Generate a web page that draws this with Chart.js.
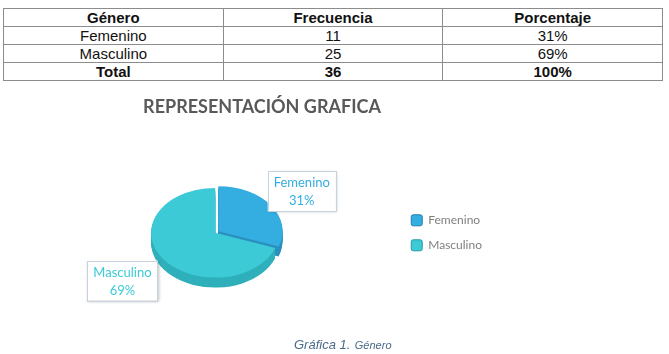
<!DOCTYPE html>
<html>
<head>
<meta charset="utf-8">
<script src="https://cdn.jsdelivr.net/npm/chart.js@4.4.1/dist/chart.umd.min.js"></script>
<style>
  html, body { margin: 0; padding: 0; background: #fff; width: 669px; height: 354px; overflow: hidden; position: relative; }
  #tabla { position: absolute; left: 3px; top: 8px; width: 660px; border-collapse: collapse; table-layout: fixed;
           font-family: "Liberation Sans", Arial, sans-serif; font-size: 15px; color: #111; }
  #tabla td { border: 1px solid #8c8c8c; height: 17px; padding: 0; text-align: center; line-height: 17px; }
  #tabla tr.bold td { font-weight: bold; }
  #wrap { position: absolute; left: 0; top: 85px; width: 669px; height: 269px; }
  #pie { position: absolute; left: 294px; top: 335px; font-family: "Liberation Sans", Arial, sans-serif;
         font-style: italic; color: #4b6a8a; white-space: nowrap; }
  #pie .a { font-size: 13px; }
  #pie .b { font-size: 11px; }
</style>
</head>
<body>
<table id="tabla"></table>
<div id="wrap"><canvas id="grafico"></canvas></div>
<div id="pie"><span class="a">Gráfica 1.</span> <span class="b">Género</span></div>

<script>
// datos
const generos = ["Femenino", "Masculino"];
const frecuencia = [11, 25];
const porcentaje = [31, 69];
const cabecera = ["Género", "Frecuencia", "Porcentaje"];
const tituloGrafica = "REPRESENTACIÓN GRAFICA";

// colores
const topColors = ["#34ade0", "#3ccbd6"];
const sideColors = ["#2b90c0", "#2fb0bb"];
const legendBorders = ["#1f7fae", "#249aa4"];

// tabla de arriba
const tabla = document.getElementById("tabla");
function fila(celdas, bold) {
  const tr = document.createElement("tr");
  if (bold) tr.className = "bold";
  celdas.forEach((c) => {
    const td = document.createElement("td");
    td.textContent = c;
    tr.appendChild(td);
  });
  tabla.appendChild(tr);
}
fila(cabecera, true);
generos.forEach((g, i) => fila([g, frecuencia[i], porcentaje[i] + "%"], false));
fila(["Total", frecuencia.reduce((a, b) => a + b, 0), porcentaje.reduce((a, b) => a + b, 0) + "%"], true);

// pastel 3D (aplastado + lateral)
const SY = 0.70;
const DEPTH = 10;
const SHIFT_X = 0;

const pie3d = {
  id: "pie3d",
  beforeDatasetsDraw(chart) {
    const ctx = chart.ctx;
    const meta = chart.getDatasetMeta(0);
    const cx = meta.data[0].x, cy = meta.data[0].y;
    ctx.save();
    ctx.translate(cx + SHIFT_X, cy);
    ctx.scale(1, SY);
    ctx.translate(-cx, -cy);
    for (let d = DEPTH; d >= 1; d--) {
      meta.data.forEach((arc, i) => {
        const off = (arc.options.offset || 0) / 4;
        const mid = (arc.startAngle + arc.endAngle) / 2;
        const x = arc.x + Math.cos(mid) * off;
        const y = arc.y + Math.sin(mid) * off + d / SY;
        ctx.beginPath();
        ctx.moveTo(x, y);
        ctx.arc(x, y, arc.outerRadius, arc.startAngle, arc.endAngle);
        ctx.closePath();
        ctx.fillStyle = sideColors[i];
        ctx.fill();
      });
    }
  },
  afterDatasetsDraw(chart) {
    chart.ctx.restore();
  },
};

// cuadros de etiqueta
const labelBoxes = {
  id: "labelBoxes",
  afterDraw(chart) {
    const ctx = chart.ctx;
    const meta = chart.getDatasetMeta(0);
    ctx.save();
    ctx.font = "13px Lato";
    ctx.textAlign = "center";
    ctx.textBaseline = "middle";
    meta.data.forEach((arc, i) => {
      const mid = (arc.startAngle + arc.endAngle) / 2;
      const r = arc.outerRadius;
      const bx = arc.x + SHIFT_X + Math.cos(mid) * r * 1.71 - 3;
      const by = arc.y + Math.sin(mid) * r * SY * 1.74 + 3;
      const l1 = generos[i], l2 = porcentaje[i] + "%";
      const w = Math.max(ctx.measureText(l1).width, ctx.measureText(l2).width) + 12;
      const h = 40;
      ctx.save();
      ctx.shadowColor = "rgba(0,0,0,0.25)";
      ctx.shadowBlur = 3;
      ctx.shadowOffsetX = 1;
      ctx.shadowOffsetY = 1;
      ctx.fillStyle = "#fff";
      ctx.fillRect(bx - w / 2, by - h / 2, w, h);
      ctx.restore();
      ctx.strokeStyle = "#c6d2e0";
      ctx.lineWidth = 1;
      ctx.strokeRect(Math.round(bx - w / 2) + 0.5, Math.round(by - h / 2) + 0.5, Math.round(w), h);
      ctx.fillStyle = topColors[i];
      ctx.fillText(l1, bx, by - 8);
      ctx.fillText(l2, bx, by + 10);
    });
    ctx.restore();
  },
};

const canvas = document.getElementById("grafico");
const ctx = canvas.getContext("2d");

new Chart(ctx, {
  type: "pie",
  data: {
    labels: generos,
    datasets: [
      {
        data: frecuencia,
        backgroundColor: topColors,
        borderWidth: 0,
        offset: [16, 0],
        radius: 64,
      },
    ],
  },
  options: {
    responsive: true,
    maintainAspectRatio: false,
    animation: false,
    layout: {
      padding: { left: 32, right: 177, top: 0, bottom: 6 },
    },
    plugins: {
      title: {
        display: true,
        text: tituloGrafica,
        color: "#595959",
        font: { family: "Lato", size: 18, weight: "bold" },
        padding: { top: 11, bottom: 0 },
      },
      legend: {
        display: true,
        position: "right",
        fullSize: false,
        labels: {
          color: "#7f7f7f",
          font: { family: "Lato", size: 12 },
          boxWidth: 11,
          boxHeight: 11,
          padding: 13,
          generateLabels(chart) {
            const items = Chart.overrides.pie.plugins.legend.labels.generateLabels(chart);
            items.forEach((it, i) => {
              it.strokeStyle = legendBorders[i];
              it.lineWidth = 1;
              it.borderRadius = 2;
            });
            return items;
          },
        },
      },
      tooltip: { enabled: false },
    },
  },
  plugins: [pie3d, labelBoxes],
});
</script>
</body>
</html>
